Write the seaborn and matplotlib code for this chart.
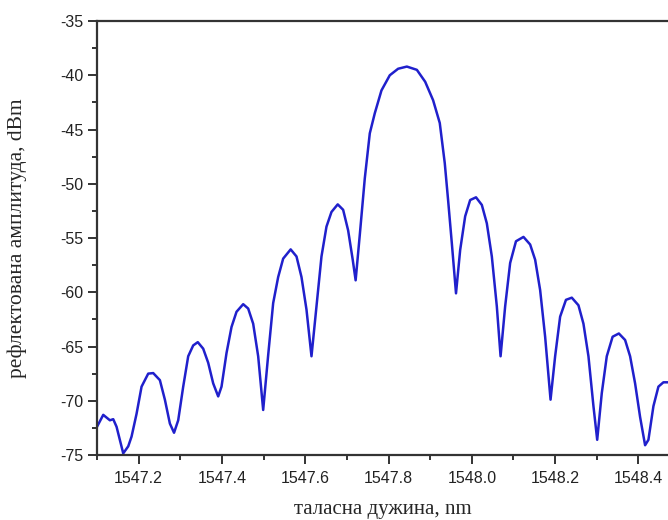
import pandas as pd
import matplotlib
matplotlib.use("Agg")
import matplotlib.pyplot as plt
from matplotlib.ticker import MultipleLocator
import seaborn as sns

sns.set_style("ticks")
plt.rcParams['font.family'] = ['Liberation Sans', 'DejaVu Sans']
plt.rcParams['axes.unicode_minus'] = False

# wavelength (nm) and reflected amplitude (dBm)
wavelength = [
    1547.100, 1547.115, 1547.131, 1547.139, 1547.147, 1547.163, 1547.175, 1547.183,
    1547.195, 1547.207, 1547.223, 1547.235, 1547.251, 1547.263, 1547.275, 1547.285,
    1547.295, 1547.307, 1547.319, 1547.331, 1547.342, 1547.355, 1547.367, 1547.379,
    1547.391, 1547.399, 1547.411, 1547.423, 1547.435, 1547.451, 1547.463, 1547.475,
    1547.487, 1547.499, 1547.511, 1547.523, 1547.535, 1547.547, 1547.565, 1547.579,
    1547.591, 1547.603, 1547.615, 1547.627, 1547.639, 1547.651, 1547.663, 1547.678,
    1547.691, 1547.703, 1547.714, 1547.721, 1547.731, 1547.743, 1547.755, 1547.767,
    1547.783, 1547.803, 1547.823, 1547.844, 1547.868, 1547.888, 1547.907, 1547.923,
    1547.935, 1547.943, 1547.952, 1547.962, 1547.972, 1547.984, 1547.996, 1548.010,
    1548.024, 1548.036, 1548.048, 1548.060, 1548.069, 1548.080, 1548.092, 1548.106,
    1548.124, 1548.140, 1548.152, 1548.164, 1548.176, 1548.189, 1548.200, 1548.212,
    1548.226, 1548.240, 1548.256, 1548.268, 1548.280, 1548.292, 1548.301, 1548.312,
    1548.324, 1548.338, 1548.353, 1548.368, 1548.380, 1548.392, 1548.404, 1548.416,
    1548.424, 1548.436, 1548.448, 1548.460, 1548.471,
]
amplitude = [
    -72.4, -71.3, -71.8, -71.7, -72.4, -74.85, -74.2, -73.3,
    -71.2, -68.7, -67.5, -67.45, -68.1, -69.9, -72.1, -72.95,
    -71.8, -68.7, -65.9, -64.9, -64.6, -65.2, -66.5, -68.4,
    -69.6, -68.7, -65.6, -63.2, -61.8, -61.1, -61.5, -62.9,
    -65.9, -70.85, -65.8, -61.0, -58.6, -56.9, -56.05, -56.7,
    -58.6, -61.6, -65.9, -61.3, -56.7, -53.95, -52.6, -51.9,
    -52.4, -54.3, -57.0, -58.9, -54.7, -49.5, -45.35, -43.5,
    -41.4, -40.0, -39.4, -39.2, -39.5, -40.6, -42.3, -44.4,
    -48.1, -51.5, -55.5, -60.1, -56.1, -53.0, -51.5, -51.25,
    -51.95, -53.65, -56.7, -61.3, -65.9, -61.3, -57.3, -55.3,
    -54.9, -55.6, -57.0, -59.8, -64.1, -69.9, -65.9, -62.25,
    -60.7, -60.5, -61.2, -62.9, -65.9, -70.5, -73.6, -69.3,
    -65.9, -64.1, -63.8, -64.4, -65.9, -68.4, -71.5, -74.1,
    -73.6, -70.5, -68.7, -68.3, -68.3,
]

df = pd.DataFrame({'wavelength': wavelength, 'amplitude': amplitude})

fig = plt.figure(figsize=(6.68, 5.2), dpi=100)
ax = fig.add_axes([0.1452, 0.125, 0.8548, 0.8346])

sns.lineplot(data=df, x='wavelength', y='amplitude', ax=ax, color='#2020cc',
             linewidth=1.8, sort=False)

ax.set_xlim(1547.1, 1548.471)
ax.set_ylim(-75, -35)
ax.xaxis.set_major_locator(MultipleLocator(0.2))
ax.xaxis.set_minor_locator(MultipleLocator(0.1))
ax.yaxis.set_major_locator(MultipleLocator(5))
ax.yaxis.set_minor_locator(MultipleLocator(2.5))
ax.xaxis.set_major_formatter(matplotlib.ticker.FormatStrFormatter('%.1f'))
ax.yaxis.set_major_formatter(matplotlib.ticker.FormatStrFormatter('%d'))

for side in ['left', 'bottom', 'top']:
    ax.spines[side].set_color('#333333')
    ax.spines[side].set_linewidth(1.6)
ax.spines['right'].set_visible(False)

ax.tick_params(which='major', direction='out', length=6.5, width=1.4, color='#333333',
               labelsize=11.5, labelcolor='#222222')
ax.tick_params(which='minor', direction='out', length=3.5, width=1.4, color='#333333')
ax.tick_params(axis='y', which='major', pad=3)
ax.tick_params(axis='x', which='major', pad=5)
ax.tick_params(top=False, right=False, which='both')

ax.set_xlabel('таласна дужина, nm', family=['Liberation Serif', 'DejaVu Serif'],
              fontsize=15, labelpad=10)
ax.set_ylabel('рефлектована амплитуда, dBm', family=['Liberation Serif', 'DejaVu Serif'],
              fontsize=15.5, labelpad=24)

fig.savefig('out.png', dpi=100)
